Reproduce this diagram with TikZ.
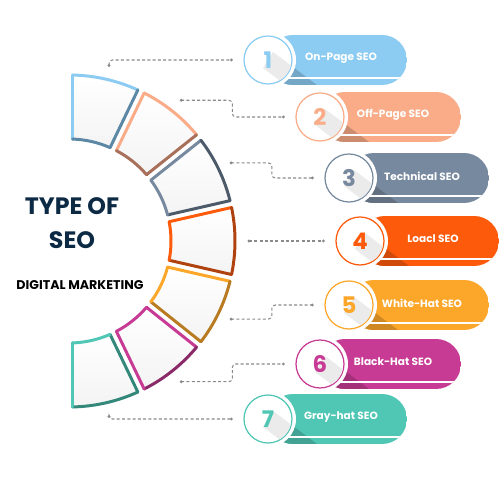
\documentclass[tikz,border=0pt]{standalone}
\usepackage{fontspec}
\setmainfont{Poppins}
\usetikzlibrary{calc}
\usetikzlibrary{positioning}

\definecolor{seoblue}{HTML}{8DCCF2}
\definecolor{seobluedk}{HTML}{5C88A5}
\definecolor{seosalmon}{HTML}{F9AC87}
\definecolor{seosalmondk}{HTML}{A8705A}
\definecolor{seoslate}{HTML}{77899E}
\definecolor{seoslatedk}{HTML}{4C5A6A}
\definecolor{seoorange}{HTML}{FD5B0B}
\definecolor{seoorangedk}{HTML}{B0420F}
\definecolor{seoamber}{HTML}{FCA62A}
\definecolor{seoamberdk}{HTML}{B87B22}
\definecolor{seomagenta}{HTML}{C73B94}
\definecolor{seomagentadk}{HTML}{8A2A69}
\definecolor{seoteal}{HTML}{50C6B4}
\definecolor{seotealdk}{HTML}{33887A}
\definecolor{seonavy}{HTML}{0C2A44}
\definecolor{seolink}{HTML}{8A8A8A}

\begin{document}
\begin{tikzpicture}[x=0.02cm,y=0.02cm,
    seg/.style={top color=white,bottom color=gray!9},
    segline/.style={line width=1.7pt,line cap=round},
    pill/.style={rounded corners=0.5cm},
    ring/.style={circle,draw,fill=white,line width=0.7pt,minimum size=0.96cm,inner sep=0pt},
    halo/.style={circle,fill=white,minimum size=1.12cm,inner sep=0pt},
    num/.style={font=\bfseries\fontsize{13}{13}\selectfont},
    pilltext/.style={text=white,font=\bfseries\fontsize{6}{7}\selectfont},
    link/.style={draw=seolink,line width=0.6pt,dash pattern=on 1.7pt off 1.3pt,rounded corners=2pt},
    titletext/.style={text=seonavy,inner sep=0pt,font=\bfseries\fontsize{13.5}{14}\selectfont}]

  \useasboundingbox (0,0) rectangle (500,500);
  \fill[white] (0,0) rectangle (500,500);

  \coordinate (o) at (69,259);

  \foreach \i/\cl/\cd in {1/seoblue/seobluedk,2/seosalmon/seosalmondk,3/seoslate/seoslatedk,
      4/seoorange/seoorangedk,5/seoamber/seoamberdk,6/seomagenta/seomagentadk,7/seoteal/seotealdk} {
    \pgfmathsetmacro\angu{90-(\i-1)*180/7}
    \pgfmathsetmacro\angl{90-\i*180/7}
    \pgfmathsetmacro\angm{90-(\i-0.5)*180/7}
    \pgfmathsetmacro\oa{\angu-asin(3.5/166)}
    \pgfmathsetmacro\ob{\angl+asin(3.5/166)}
    \pgfmathsetmacro\ia{\angu-asin(3.5/102)}
    \pgfmathsetmacro\ib{\angl+asin(3.5/102)}
    \coordinate (A) at ($(o)+(\oa:166)$);
    \coordinate (B) at ($(o)+(\ob:166)$);
    \coordinate (C) at ($(o)+(\ib:102)$);
    \coordinate (D) at ($(o)+(\ia:102)$);
    \pgfmathtruncatemacro\flu{cos(\angu-45)>0}
    \pgfmathtruncatemacro\flo{cos(\angm-135)>0}
    \pgfmathtruncatemacro\flw{cos(\angl-225)>0}
    \pgfmathtruncatemacro\fln{cos(\angm+45)>0}
    \ifnum\flu=1 \def\clu{\cl}\else\def\clu{\cd}\fi
    \ifnum\flo=1 \def\clo{\cl}\else\def\clo{\cd}\fi
    \ifnum\flw=1 \def\clw{\cl}\else\def\clw{\cd}\fi
    \ifnum\fln=1 \def\cln{\cl}\else\def\cln{\cd}\fi
    \fill[seg] (A) arc[start angle=\oa,end angle=\ob,radius=166] -- (C)
      arc[start angle=\ib,end angle=\ia,radius=102] -- cycle;
    \draw[segline,draw=\clu] (D) -- (A);
    \draw[segline,draw=\clo] (A) arc[start angle=\oa,end angle=\ob,radius=166];
    \draw[segline,draw=\clw] (B) -- (C);
    \draw[segline,draw=\cln] (C) arc[start angle=\ib,end angle=\ia,radius=102];
    \coordinate (s\i) at ($(o)+(\angm:180)$);
  }

  \foreach \i/\x/\y/\r/\cl/\t in {1/268/440/407/seoblue/On-Page SEO,2/320/383/461/seosalmon/Off-Page SEO,
      3/349/322/489/seoslate/Technical SEO,4/360/259/499/seoorange/Loacl SEO,
      5/349/195/489/seoamber/White-Hat SEO,6/320/136/461/seomagenta/Black-Hat SEO,
      7/268/81/407/seoteal/Gray-hat SEO} {
    \begin{scope}
      \clip[pill] (\x,\y-25) rectangle (\r,\y+25);
      \fill[\cl] (\x,\y-25) rectangle (\r,\y+25);
      \fill[\cl!82!black] (\x+5,\y+8) -- (\x+105,\y-67) -- (\x+95,\y-83) -- (\x-5,\y-8) -- cycle;
      \draw[white,line width=0.7pt] (\x,\y-18) -- (\r,\y-18);
    \end{scope}
    \node[halo] at (\x,\y) {};
    \node[ring,draw=\cl] (c\i) at (\x,\y) {};
    \begin{scope}
      \clip (\x,\y) circle[radius=23.5];
      \fill[gray!16] (\x+5,\y+8) -- (\x+105,\y-67) -- (\x+95,\y-83) -- (\x-5,\y-8) -- cycle;
    \end{scope}
    \node[num,text=\cl] at (c\i) {\i};
    \node[pilltext] (t\i) at (\x+73,\y+2) {\t};
    \coordinate[left=0.24cm of c\i] (e\i);
  }

  \draw[link] (s1) |- (e1);
  \draw[link] (s2) -| ($(s2)!0.5!(e2)$) |- (e2);
  \draw[link] (s3) -| ($(s3)!0.5!(e3)$) |- (e3);
  \draw[link] (s4) -- (e4);
  \draw[link] (s5) -| ($(s5)!0.5!(e5)$) |- (e5);
  \draw[link] (s6) -| ($(s6)!0.5!(e6)$) |- (e6);
  \draw[link] (s7) |- (e7);
  \foreach \i in {1,...,7}
    \fill[seolink] (s\i) circle[radius=1.6] (e\i) circle[radius=1.6];

  \node[titletext] (type) at (72,294) {TYPE OF};
  \node[titletext,below=0.32cm of type] (seo) {SEO};
  \node[text=black,inner sep=0pt,font=\bfseries\fontsize{7.2}{8}\selectfont,
    below=0.64cm of seo,xshift=0.16cm] (dm) {DIGITAL MARKETING};

\end{tikzpicture}
\end{document}
